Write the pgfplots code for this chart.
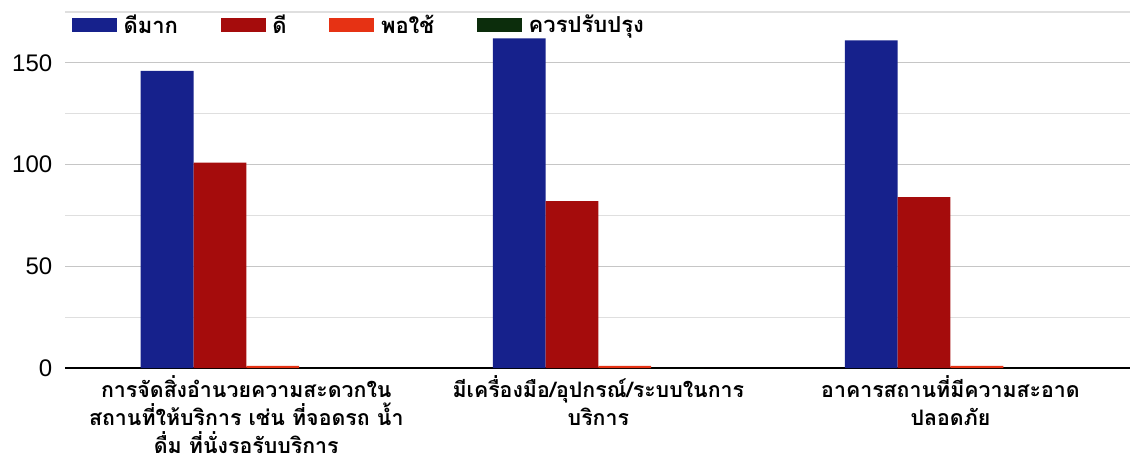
\documentclass[border=0pt]{standalone}
\usepackage{fontspec}
\setmainfont{Liberation Sans}
\newfontfamily\thai[Script=Thai]{Loma}
\usepackage{pgfplots}
\pgfplotsset{compat=1.18}

\definecolor{cBlue}{HTML}{16218C}
\definecolor{cRed}{HTML}{A50C0C}
\definecolor{cOrange}{HTML}{E63214}
\definecolor{cGreen}{HTML}{0C2D0C}

\begin{document}
\begin{tikzpicture}
\begin{axis}[
    at={(0,0)}, anchor=south west,
    scale only axis,
    width=798.75pt, height=267pt,
    xmin=-0.515, xmax=2.51,
    ymin=0, ymax=175,
    bar width=0.15,
    xtick={0,1,2},
    xticklabels={
        {การจัดสิ่งอำนวยความสะดวกใน\\สถานที่ให้บริการ เช่น ที่จอดรถ น้ำ\\ดื่ม ที่นั่งรอรับบริการ},
        {มีเครื่องมือ/อุปกรณ์/ระบบในการ\\บริการ},
        {อาคารสถานที่มีความสะอาด\\ปลอดภัย}},
    xticklabel style={align=center, font=\thai\bfseries\fontsize{16}{21}\selectfont, yshift=-2pt},
    ytick={0,50,100,150},
    minor ytick={25,75,125,175},
    yticklabel style={font=\fontsize{18}{20}\selectfont, xshift=-6pt},
    /pgf/number format/assume math mode=true,
    ymajorgrids, yminorgrids,
    major grid style={gray!45, line width=0.8pt},
    minor grid style={gray!25, line width=0.8pt},
    major tick length=0pt, minor tick length=0pt,
    axis lines*=left,
    y axis line style={draw=none},
    x axis line style={black, line width=1.6pt, -},
    legend columns=-1,
    legend style={
        at={(axis description cs:0,1)}, anchor=west,
        xshift=5pt, yshift=-9.75pt,
        draw=none, fill=none, inner sep=0pt,
        font=\thai\bfseries\fontsize{16.5}{18}\selectfont,
        /tikz/every odd column/.append style={column sep=3pt},
        /tikz/every even column/.append style={column sep=30pt},
    },
    legend image code/.code={
        \fill[#1,draw=none] (0pt,-5.25pt) rectangle (33.75pt,5.25pt);
    },
]
\addplot[ybar, bar shift=-0.225, fill=cBlue, draw=none]
    coordinates {(0,146) (1,162) (2,161)};
\addplot[ybar, bar shift=-0.075, fill=cRed, draw=none]
    coordinates {(0,101) (1,82) (2,84)};
\addplot[ybar, bar shift=0.075, fill=cOrange, draw=none]
    coordinates {(0,1) (1,1) (2,1)};
\addplot[ybar, bar shift=0.225, fill=cGreen, draw=none]
    coordinates {(0,0) (1,0) (2,0)};
\legend{ดีมาก, ดี, พอใช้, ควรปรับปรุง}
\end{axis}
\pgfresetboundingbox
\path (-48.75pt,-69.75pt) rectangle (798.75pt,276pt);
\end{tikzpicture}
\end{document}
